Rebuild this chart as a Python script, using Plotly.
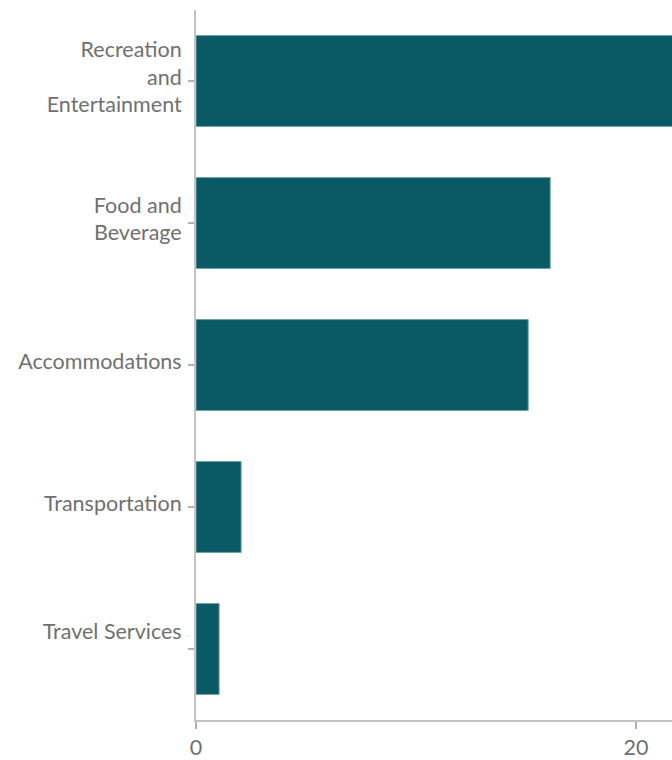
import plotly.graph_objects as go

categories = ["Recreation and Entertainment", "Food and Beverage", "Accommodations",
              "Transportation", "Travel Services"]
values = [24.0, 16.1, 15.1, 2.05, 1.05]
tick_labels = ["Recreation<br>and<br>Entertainment", "Food and<br>Beverage",
               "Accommodations", "Transportation", "Travel Services<br> "]
x_ticks = [0, 20]

fig = go.Figure(go.Bar(
    x=values, y=categories, orientation="h",
    marker=dict(color="#0a5a66", line=dict(color="#6e9fa6", width=1)),
    hoverinfo="skip",
))

font_family = "Lato, 'Open Sans', sans-serif"
label_color = "#707070"
fig.update_layout(
    width=672, height=760,
    margin=dict(l=196, r=0, t=9.5, b=31),
    paper_bgcolor="white", plot_bgcolor="white",
    bargap=0.36,
    showlegend=False,
    font=dict(family=font_family, size=21.5, color=label_color),
)
fig.update_xaxes(
    range=[0, (672 - 196) / 22], tickvals=x_ticks, showgrid=False, zeroline=False,
    showline=True, linecolor="#c4c4c4", linewidth=1.5,
    ticks="outside", ticklen=7, tickcolor="#b0b0b0", tickwidth=1.5,
    tickfont=dict(size=21.5, color=label_color),
)
fig.update_yaxes(
    categoryorder="array", categoryarray=categories, autorange="reversed",
    tickvals=categories, ticktext=tick_labels,
    showgrid=False, zeroline=False,
    showline=True, linecolor="#c4c4c4", linewidth=2,
    ticks="outside", ticklen=6, tickcolor="#b0b0b0", tickwidth=1.5,
    ticklabelstandoff=2, ticklabelshift=4,
    tickfont=dict(size=21.5, color=label_color),
)
fig.write_html(
    "out.html",
    config={"displayModeBar": False},
    post_script="document.body.style.margin='0';document.body.style.overflow='hidden';",
)
